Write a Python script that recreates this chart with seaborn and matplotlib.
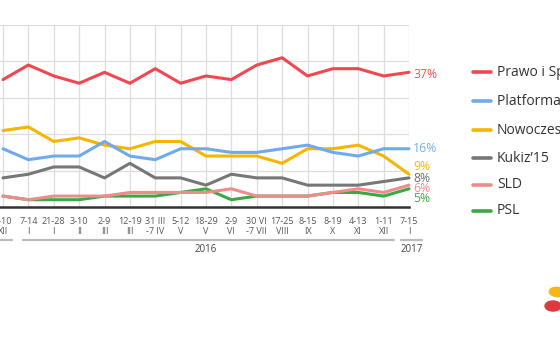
import matplotlib
matplotlib.use("Agg")
import matplotlib.pyplot as plt
import seaborn as sns
import numpy as np
import pandas as pd
from matplotlib.lines import Line2D
from matplotlib.patches import Ellipse
import matplotlib.transforms as mtransforms

# ---- data ----
periods = ["3-10\nXII", "7-14\nI", "21-28\nI", "3-10\nII", "2-9\nIII", "12-19\nIII",
           "31 III\n-7 IV", "5-12\nV", "18-29\nV", "2-9\nVI", "30 VI\n-7 VII",
           "17-25\nVIII", "8-15\nIX", "8-19\nX", "4-13\nXI", "1-11\nXII", "7-15\nI"]
pis = [35, 39, 36, 34, 37, 34, 38, 34, 36, 35, 39, 41, 36, 38, 38, 36, 37]
po = [16, 13, 14, 14, 18, 14, 13, 16, 16, 15, 15, 16, 17, 15, 14, 16, 16]
nowoczesna = [21, 22, 18, 19, 17, 16, 18, 18, 14, 14, 14, 12, 16, 16, 17, 14, 9]
kukiz = [8, 9, 11, 11, 8, 12, 8, 8, 6, 9, 8, 8, 6, 6, 6, 7, 8]
sld = [3, 2, 3, 3, 3, 4, 4, 4, 4, 5, 3, 3, 3, 4, 5, 4, 6]
psl = [3, 2, 2, 2, 3, 3, 3, 4, 5, 2, 3, 3, 3, 4, 4, 3, 5]
series_names = ["Prawo i Sprawiedliwość", "Platforma Obywatelska", "Nowoczesna",
                "Kukiz\u201915", "SLD", "PSL"]
end_labels = ["37%", "16%", "9%", "8%", "6%", "5%"]
years = ["2016", "2017"]

colors = ["#f2474f", "#6fa9ee", "#f6b500", "#777777", "#ee8c8c", "#3aa844"]
label_colors = ["#f0535b", "#78aeee", "#f5b90f", "#707070", "#ee9090", "#45a84e"]
label_y_px = [75, 149, 167, 178, 189, 199]
legend_y_px = [72, 101, 130, 158, 185, 211]

W, H = 560, 353
sns.set_theme(style="white")
plt.rcParams['font.family'] = ['Open Sans', 'DejaVu Sans']

fig = plt.figure(figsize=(W / 100, H / 100), dpi=100)
# axes placement in pixels
step = 25.375
x0_px = 3.0
xmin = -0.5
left_px = x0_px + xmin * step
right_px = 409.0
top_px, bottom_px = 25.0, 207.0
ax = fig.add_axes([left_px / W, 1 - bottom_px / H, (right_px - left_px) / W,
                   (bottom_px - top_px) / H])

all_series = [pis, po, nowoczesna, kukiz, sld, psl]
xs = np.arange(len(periods))
for vals, name, col in reversed(list(zip(all_series, series_names, colors))):
    df = pd.DataFrame({"x": xs, "y": vals})
    sns.lineplot(data=df, x="x", y="y", color=col, linewidth=2.2, ax=ax,
                 clip_on=False, zorder=3, legend=False)

ax.set_xlim(xmin, len(periods) - 1)
ax.set_ylim(0, 50)
ax.set_xticks(xs)
ax.set_xticklabels(periods, fontsize=6.5, color="#555555", linespacing=1.1)
ax.set_yticks([10, 20, 30, 40, 50])
ax.set_yticklabels([])
ax.tick_params(axis="y", length=0)
ax.tick_params(axis="x", length=5, width=1.3, color="#333333", pad=2.5, direction="out")
ax.grid(True, color="#dddddd", linewidth=0.9)
ax.set_axisbelow(True)
for s in ["top", "right", "left"]:
    ax.spines[s].set_visible(False)
ax.spines["bottom"].set_color("#333333")
ax.spines["bottom"].set_linewidth(1.8)
ax.set_xlabel("")
ax.set_ylabel("")

# year grouping lines and labels
trans = mtransforms.blended_transform_factory(ax.transData, ax.transAxes)
def px2x(px):
    return (px - x0_px) / step
yline = -(240 - bottom_px) / (bottom_px - top_px)
yyear = -(249 - bottom_px) / (bottom_px - top_px)
for a, b in [(-2, 12), (23, 394), (401, 422)]:
    ax.add_line(Line2D([px2x(a), px2x(b)], [yline, yline], transform=trans,
                       color="#bbbbbb", linewidth=1.6, clip_on=False))
ax.text(px2x(206), yyear, years[0], transform=trans, ha="center", va="center",
        fontsize=7, color="#444444")
ax.text(px2x(412), yyear, years[1], transform=trans, ha="center", va="center",
        fontsize=7, color="#444444")

# end value labels
for lab, ypx, col in zip(end_labels, label_y_px, label_colors):
    fig.text(413 / W, 1 - ypx / H, lab, color=col, fontsize=8.8, ha="left", va="center")

# legend (manual)
for name, ypx, col in zip(series_names, legend_y_px, colors):
    fig.add_artist(Line2D([473 / W, 491 / W], [1 - ypx / H, 1 - ypx / H],
                          transform=fig.transFigure, color=col, linewidth=2.6))
    fig.text(497 / W, 1 - ypx / H, name, color="#333333", fontsize=10,
             ha="left", va="center")

# small logo shapes
fig.add_artist(Ellipse((557 / W, 1 - 292 / H), 16 / W, 9 / H, angle=-35,
                       transform=fig.transFigure, color="#f3b818"))
fig.add_artist(Ellipse((553 / W, 1 - 306 / H), 16 / W, 10 / H, angle=-45,
                       transform=fig.transFigure, color="#e0383e"))

fig.savefig("out.png", dpi=100)
